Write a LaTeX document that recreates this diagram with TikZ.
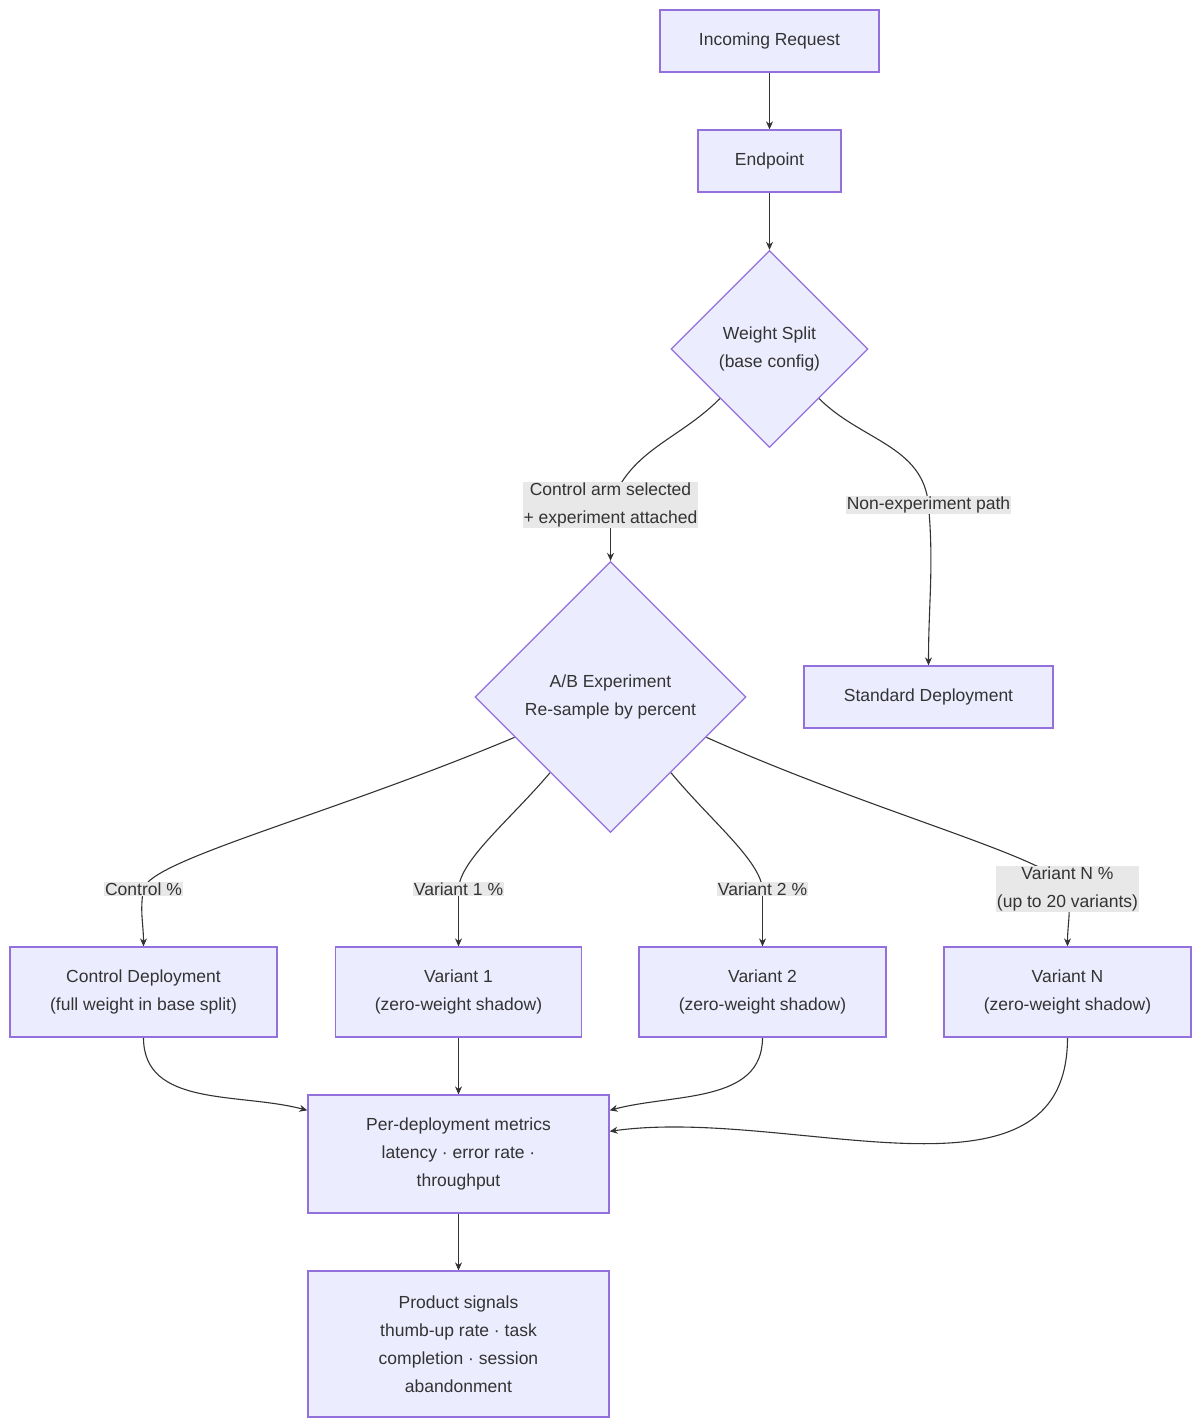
\documentclass[tikz,border=0pt]{standalone}
\usepackage{fontspec}
\setmainfont{Liberation Sans}
\usetikzlibrary{shapes.geometric,arrows.meta,calc,backgrounds}
\definecolor{nfill}{HTML}{ECECFF}
\definecolor{nline}{HTML}{9370DB}
\definecolor{lbg}{HTML}{E8E8E8}
\definecolor{txt}{HTML}{333333}
\begin{document}
\begin{tikzpicture}[x=1pt,y=-1pt,
  every node/.style={text=txt,font=\fontsize{17.5}{28}\selectfont,align=center},
  box/.style={draw=nline,fill=nfill,line width=1.3pt,rectangle,inner sep=0pt},
  dia/.style={draw=nline,fill=nfill,line width=1.3pt,diamond,aspect=1,inner sep=0pt},
  lbl/.style={fill=lbg,inner sep=1pt},
  arr/.style={draw=txt,line width=1.1pt,-{Stealth[length=8pt,width=7pt]}},
  ln/.style={draw=txt,line width=1.1pt}]
\useasboundingbox (0,0) rectangle (1200,1426);
\node[box,minimum width=219pt,minimum height=62pt] (in) at (769.5,41) {Incoming Request};
\node[box,minimum width=143pt,minimum height=62pt] (ep) at (769.5,161) {Endpoint};
\node[dia,minimum width=197pt,minimum height=197pt] (ws) at (769.5,349) {Weight Split\\(base config)};
\node[lbl] (l1) at (610.5,505) {Control arm selected\\+ experiment attached};
\node[lbl] (l2) at (928.5,505) {Non-experiment path};
\node[dia,minimum width=271pt,minimum height=271pt] (ab) at (610.5,697) {A/B Experiment\\Re-sample by percent};
\node[box,minimum width=249pt,minimum height=62pt] (std) at (928.5,697) {Standard Deployment};
\node[lbl] (lc) at (143.5,889) {Control \%};
\node[lbl] (lv1) at (458.5,889) {Variant 1 \%};
\node[lbl] (lv2) at (762.5,889) {Variant 2 \%};
\node[lbl] (lvn) at (1067.5,889) {Variant N \%\\(up to 20 variants)};
\node[box,minimum width=267pt,minimum height=90pt] (ctrl) at (143.5,992) {Control Deployment\\(full weight in base split)};
\node[box,minimum width=246pt,minimum height=90pt] (v1) at (458.5,992) {Variant 1\\(zero-weight shadow)};
\node[box,minimum width=247pt,minimum height=90pt] (v2) at (762.5,992) {Variant 2\\(zero-weight shadow)};
\node[box,minimum width=247pt,minimum height=90pt] (vn) at (1067.5,992) {Variant N\\(zero-weight shadow)};
\node[box,minimum width=301pt,minimum height=118pt] (met) at (458.5,1154) {Per-deployment metrics\\latency · error rate ·\\throughput};
\node[box,minimum width=301pt,minimum height=146pt] (prod) at (458.5,1344) {Product signals\\thumb-up rate · task\\completion · session\\abandonment};
\coordinate (a1) at ($(ab.west)!0.296!(ab.south)$);
\coordinate (a2) at ($(ab.west)!0.556!(ab.south)$);
\coordinate (a3) at ($(ab.east)!0.556!(ab.south)$);
\coordinate (a4) at ($(ab.east)!0.296!(ab.south)$);
\coordinate (m1) at ($(met.north west)+(0,16)$);
\coordinate (m2) at ($(met.north east)+(0,16)$);
\coordinate (m3) at ($(met.north east)+(0,37)$);
\begin{scope}[on background layer]
\draw[arr] (in) -- (ep);
\draw[arr] (ep) -- (ws);
\draw[ln] (ws.south west) to[out=-135,in=70] (l1.center);
\draw[arr] (l1.center) to[out=-90,in=90] (ab.north);
\draw[ln] (ws.south east) to[out=-45,in=95] (l2.center);
\draw[arr] (l2.center) to[out=-85,in=90] (std.north);
\draw[ln] (a1) .. controls (330,815) and (150,860) .. (lc.center);
\draw[arr] (lc.center) to[out=-100,in=90] (ctrl.north);
\draw[ln] (a2) .. controls (510,820) and (460,860) .. (lv1.center);
\draw[arr] (lv1.center) to[out=-90,in=90] (v1.north);
\draw[ln] (a3) .. controls (710,820) and (760,860) .. (lv2.center);
\draw[arr] (lv2.center) to[out=-90,in=90] (v2.north);
\draw[ln] (a4) .. controls (880,815) and (1060,860) .. (lvn.center);
\draw[arr] (lvn.center) to[out=-80,in=90] (vn.north);
\draw[arr] (ctrl.south) to[out=-90,in=165] (m1);
\draw[arr] (v1.south) -- (met.north);
\draw[arr] (v2.south) to[out=-90,in=15] (m2);
\draw[arr] (vn.south) to[out=-90,in=8] (m3);
\draw[arr] (met.south) -- (prod.north);
\end{scope}
\end{tikzpicture}
\end{document}
